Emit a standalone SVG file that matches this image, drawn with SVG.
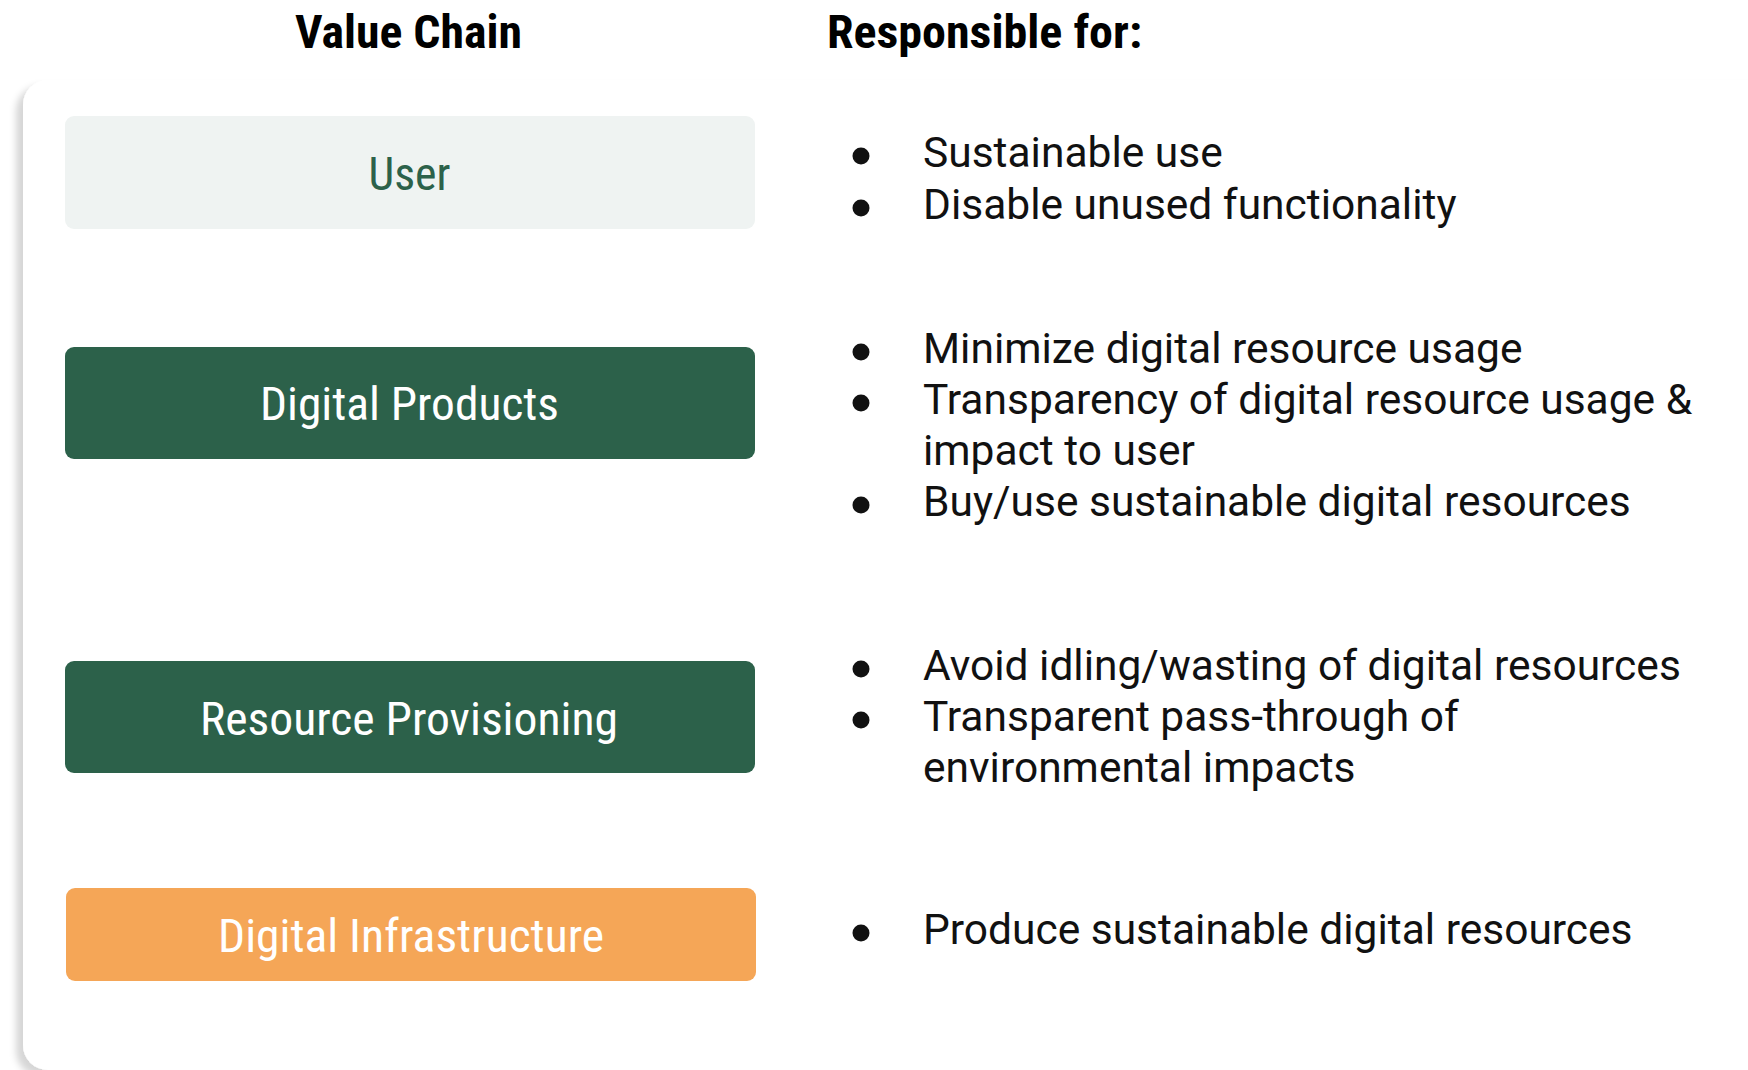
<svg xmlns="http://www.w3.org/2000/svg" width="1748" height="1070" viewBox="0 0 1748 1070">
<style>
.head{font-family:"Roboto Condensed","Roboto","Liberation Sans",sans-serif;font-weight:bold;font-size:46px;fill:#000}
.lbl{font-family:"Roboto Condensed","Roboto","Liberation Sans",sans-serif;font-size:47px;text-anchor:middle}
.item{font-family:"Roboto","Liberation Sans",sans-serif;font-size:42.5px;fill:#111}
.box{stroke:none}
.dark{fill:#2C614A}
.bul{fill:#111}
</style>
<defs>
<filter id="sh" x="-5%" y="-5%" width="110%" height="110%">
<feDropShadow dx="-7" dy="6" stdDeviation="3.5" flood-color="#000" flood-opacity="0.16"/>
</filter>
</defs>
<rect width="1748" height="1070" fill="#fff"/>
<g id="card">
<rect x="23" y="80" width="1780" height="990" rx="25" fill="#fff" filter="url(#sh)"/>
</g>
<text class="head" x="408.5" y="48" text-anchor="middle" textLength="227" lengthAdjust="spacingAndGlyphs">Value Chain</text>
<text class="head" x="827" y="48" textLength="315" lengthAdjust="spacingAndGlyphs">Responsible for:</text>
<g id="user">
<rect class="box" x="65" y="116" width="690" height="113" rx="9" fill="#EFF3F2"/>
<text class="lbl" x="409.5" y="190" fill="#2C614A" textLength="82" lengthAdjust="spacingAndGlyphs">User</text>
</g>
<g id="digital-products">
<rect class="box dark" x="65" y="347" width="690" height="112" rx="9"/>
<text class="lbl" x="409.5" y="420" fill="#fff" textLength="299" lengthAdjust="spacingAndGlyphs">Digital Products</text>
</g>
<g id="resource-provisioning">
<rect class="box dark" x="65" y="661" width="690" height="112" rx="9"/>
<text class="lbl" x="409" y="735" fill="#fff" textLength="418" lengthAdjust="spacingAndGlyphs">Resource Provisioning</text>
</g>
<g id="digital-infrastructure">
<rect class="box" x="66" y="888" width="690" height="93" rx="9" fill="#F5A657"/>
<text class="lbl" x="411" y="952" fill="#fff" textLength="386" lengthAdjust="spacingAndGlyphs">Digital Infrastructure</text>
</g>
<g id="responsibilities">
<circle class="bul" cx="861" cy="156" r="8.5"/>
<text class="item" x="923" y="167">Sustainable use</text>
<circle class="bul" cx="861" cy="208" r="8.5"/>
<text class="item" x="923" y="219">Disable unused functionality</text>
<circle class="bul" cx="861" cy="352" r="8.5"/>
<text class="item" x="923" y="363">Minimize digital resource usage</text>
<circle class="bul" cx="861" cy="403" r="8.5"/>
<text class="item" x="923" y="414">Transparency of digital resource usage &amp;</text>
<text class="item" x="923" y="465">impact to user</text>
<circle class="bul" cx="861" cy="505" r="8.5"/>
<text class="item" x="923" y="516">Buy/use sustainable digital resources</text>
<circle class="bul" cx="861" cy="669" r="8.5"/>
<text class="item" x="923" y="680">Avoid idling/wasting of digital resources</text>
<circle class="bul" cx="861" cy="720" r="8.5"/>
<text class="item" x="923" y="731">Transparent pass-through of</text>
<text class="item" x="923" y="782">environmental impacts</text>
<circle class="bul" cx="861" cy="933" r="8.5"/>
<text class="item" x="923" y="944">Produce sustainable digital resources</text>
</g>
</svg>
